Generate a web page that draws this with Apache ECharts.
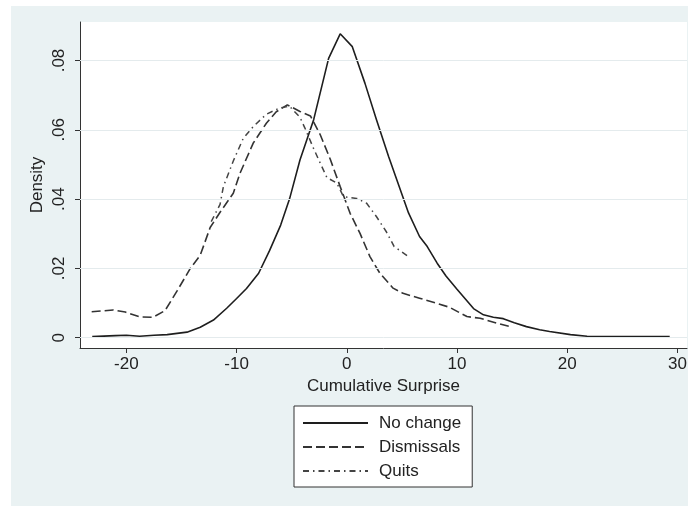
<!DOCTYPE html>
<html>
<head>
<meta charset="utf-8">
<script src="https://cdn.jsdelivr.net/npm/echarts@6/dist/echarts.min.js"></script>
<style>
html,body{margin:0;padding:0;background:#fff;}
#chart{width:694px;height:506px;}
</style>
</head>
<body>
<div id="chart"></div>
<script>
// ---- Data ----
const noChangeX = [-23.1,-21.0,-20.0,-18.8,-17.5,-16.3,-14.5,-13.3,-12.1,-10.9,-10.0,-9.1,-8.0,-7.0,-6.0,-5.2,-4.25,-3.0,-1.65,-0.6,0.5,1.65,2.7,3.8,4.6,5.6,6.6,7.3,8.2,9.0,10.0,11.5,12.4,13.3,14.2,15.2,16.3,17.5,18.4,20.3,21.8,25.0,29.3];
const noChangeY = [0.0003,0.0006,0.0007,0.0004,0.0007,0.0009,0.0016,0.0030,0.0051,0.0085,0.0113,0.0142,0.0186,0.0252,0.0325,0.0400,0.0513,0.0630,0.0806,0.0877,0.0840,0.0734,0.0628,0.0522,0.0450,0.0360,0.0292,0.0263,0.0215,0.0178,0.0140,0.0084,0.0066,0.0059,0.0055,0.0043,0.0032,0.0023,0.0018,0.0009,0.0004,0.0003,0.0003];

const dismissalsX = [-23.15,-21.2,-20.1,-18.8,-17.6,-16.5,-15.4,-14.2,-13.3,-12.4,-11.5,-10.3,-9.7,-8.5,-7.3,-6.4,-5.4,-4.25,-3.3,-2.4,-1.5,-0.6,0.3,1.2,2.1,3.0,4.2,5.1,6.6,8.2,9.3,10.9,12.1,13.6,14.8];
const dismissalsY = [0.0075,0.0080,0.0074,0.0060,0.0059,0.0078,0.0135,0.0200,0.0238,0.0318,0.0362,0.0417,0.0474,0.0561,0.0619,0.0652,0.0672,0.0653,0.0640,0.0585,0.0515,0.0436,0.0359,0.0301,0.0234,0.0186,0.0143,0.0128,0.0114,0.0099,0.0088,0.0061,0.0056,0.0042,0.0032];

const quitsX = [-12.3,-11.5,-11.2,-10.3,-9.4,-8.5,-7.3,-6.1,-5.2,-4.25,-3.8,-3.0,-2.4,-1.8,-0.9,-0.3,0.9,1.8,2.7,3.6,4.3,5.6];
const quitsY = [0.0335,0.0385,0.0436,0.0510,0.0575,0.0609,0.0645,0.0663,0.0668,0.0636,0.0605,0.0545,0.0503,0.0462,0.0446,0.0407,0.0402,0.0388,0.0349,0.0305,0.0263,0.0234];

const seriesNames = ['No change','Dismissals','Quits'];
const xTicks = [-20,-10,0,10,20,30];
const yTicks = [0,0.02,0.04,0.06,0.08];
const xTitle = 'Cumulative Surprise';
const yTitle = 'Density';

function zip(xs, ys){ return xs.map((x,i)=>[x, ys[i]]); }
function yFmt(v){
  if (Math.abs(v) < 1e-9) return '0';
  return v.toFixed(2).replace(/^0/, '');
}

const FONT = '"Liberation Sans", Arial, Helvetica, sans-serif';
const chart = echarts.init(document.getElementById('chart'), null, {renderer:'canvas'});

const option = {
  animation: false,
  backgroundColor: '#ffffff',
  graphic: [{
    type: 'rect', z: -10, silent: true,
    shape: {x: 11, y: 6, width: 677, height: 500},
    style: {fill: '#eaf2f3'}
  }],
  grid: {
    left: 80, top: 22, right: 7, bottom: 158,
    show: true, backgroundColor: '#ffffff', borderWidth: 0
  },
  legend: {
    data: seriesNames,
    orient: 'vertical',
    left: 294, top: 406,
    selectedMode: false,
    backgroundColor: '#ffffff',
    borderColor: '#333333', borderWidth: 1, borderRadius: 0,
    padding: [7, 11, 6, 8],
    itemWidth: 65, itemHeight: 14, itemGap: 4,
    itemStyle: {opacity: 0, borderWidth: 0},
    textStyle: {fontFamily: FONT, fontSize: 17, color: '#222', lineHeight: 20, padding: [0,0,0,6]}
  },
  xAxis: {
    type: 'value',
    min: -24.21, max: 30.87,
    name: xTitle, nameLocation: 'middle', nameGap: 30, nameMoveOverlap: false,
    nameTextStyle: {fontFamily: FONT, fontSize: 17, color: '#222'},
    axisLine: {show: true, onZero: false, lineStyle: {color: '#333', width: 1}},
    axisTick: {show: true, length: 5, customValues: xTicks, lineStyle: {color: '#333'}},
    axisLabel: {customValues: xTicks, margin: 8, fontFamily: FONT, fontSize: 17, color: '#222',
      formatter: v => String(v)},
    splitLine: {show: false}
  },
  yAxis: {
    type: 'value',
    min: -0.00297, max: 0.09111,
    name: yTitle, nameLocation: 'middle', nameGap: 34, nameRotate: 90, nameMoveOverlap: false,
    nameTextStyle: {fontFamily: FONT, fontSize: 17, color: '#222'},
    axisLine: {show: true, onZero: false, lineStyle: {color: '#333', width: 1}},
    axisTick: {show: true, length: 5, customValues: yTicks, lineStyle: {color: '#333'}},
    axisLabel: {customValues: yTicks, rotate: 90, margin: 12, fontFamily: FONT, fontSize: 17, color: '#222',
      formatter: yFmt},
    splitLine: {show: false}
  },
  series: [
    {
      name: '__grid', type: 'line', data: [], z: 1, silent: true,
      markLine: {
        silent: true, symbol: 'none', label: {show: false},
        lineStyle: {color: '#e4ebed', width: 1, type: 'solid'},
        data: yTicks.map(v => ({yAxis: v}))
      }
    },
    {
      name: seriesNames[0], type: 'line', data: zip(noChangeX, noChangeY),
      symbol: 'none', showSymbol: false, z: 3,
      lineStyle: {color: '#1e1e1e', width: 1.6, type: 'solid'},
      itemStyle: {color: '#1e1e1e'}
    },
    {
      name: seriesNames[1], type: 'line', data: zip(dismissalsX, dismissalsY),
      symbol: 'none', showSymbol: false, z: 3,
      lineStyle: {color: '#333333', width: 1.6, type: [9, 4]},
      itemStyle: {color: '#333333'}
    },
    {
      name: seriesNames[2], type: 'line', data: zip(quitsX, quitsY),
      symbol: 'none', showSymbol: false, z: 3,
      lineStyle: {color: '#444444', width: 1.5, type: [6, 4, 1.5, 4]},
      itemStyle: {color: '#444444'}
    }
  ]
};
chart.setOption(option);
</script>
</body>
</html>
